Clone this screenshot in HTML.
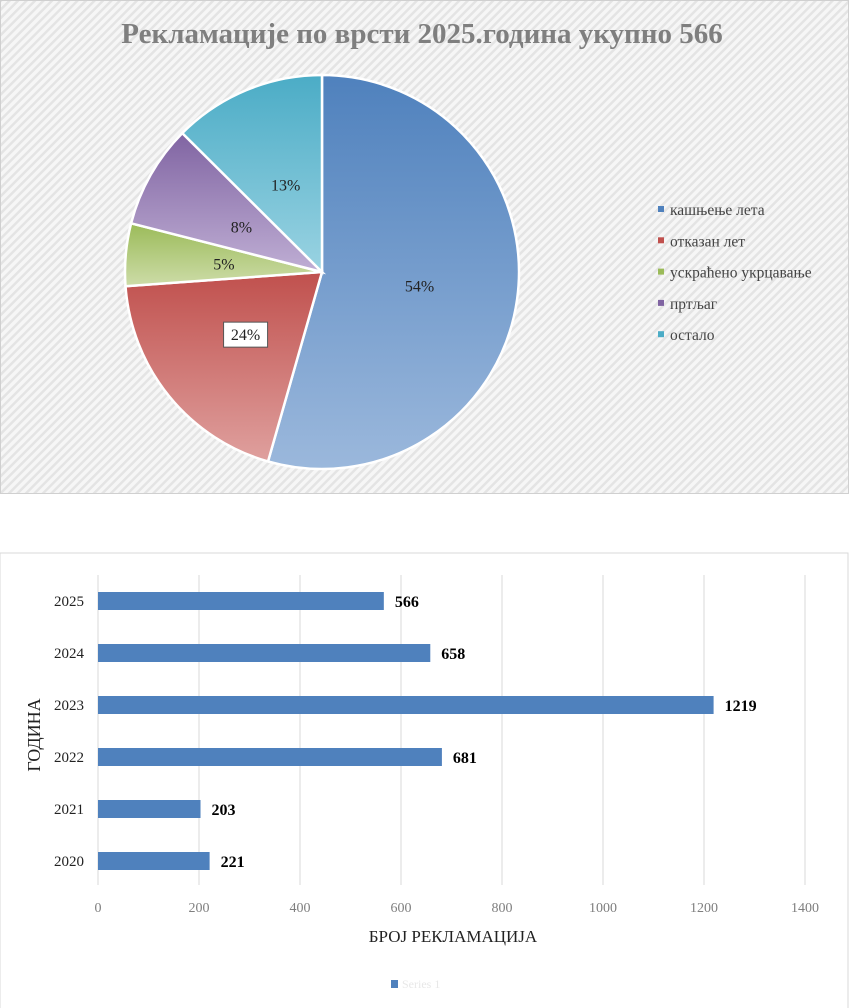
<!DOCTYPE html>
<html><head><meta charset="utf-8"><style>
html,body{margin:0;padding:0;background:#fff;width:850px;height:1008px;overflow:hidden}
svg{display:block;font-family:"Liberation Serif","DejaVu Serif",serif}
</style></head><body>
<svg id="s" width="850" height="1008" xmlns="http://www.w3.org/2000/svg">
<defs>
<pattern id="hatch" width="6" height="6" patternUnits="userSpaceOnUse" patternTransform="rotate(45)">
<rect width="6" height="6" fill="#f6f6f6"/><rect width="2.5" height="6" fill="#e4e4e4"/></pattern>
<linearGradient id="g0" x1="0" y1="0" x2="0" y2="1"><stop offset="0" stop-color="#4f81bd"/><stop offset="1" stop-color="#9bb8dc"/></linearGradient>
<linearGradient id="g1" x1="0" y1="0" x2="0" y2="1"><stop offset="0" stop-color="#c0504d"/><stop offset="1" stop-color="#dfa09e"/></linearGradient>
<linearGradient id="g2" x1="0" y1="0" x2="0" y2="1"><stop offset="0" stop-color="#9bbb59"/><stop offset="1" stop-color="#cddca8"/></linearGradient>
<linearGradient id="g3" x1="0" y1="0" x2="0" y2="1"><stop offset="0" stop-color="#8064a2"/><stop offset="1" stop-color="#bfaed4"/></linearGradient>
<linearGradient id="g4" x1="0" y1="0" x2="0" y2="1"><stop offset="0" stop-color="#4bacc6"/><stop offset="1" stop-color="#9ad3e2"/></linearGradient>
</defs>
<rect x="0.5" y="0.5" width="848" height="493" fill="url(#hatch)" stroke="#d0d0d0"/>
<text x="422" y="43" text-anchor="middle" font-size="29" font-weight="bold" fill="#7f7f7f">Рекламације по врсти 2025.година укупно 566</text>
<g id="pie"></g>
<g id="legend"></g>
<rect x="0" y="553" width="848" height="460" fill="#fff" stroke="#d9d9d9"/>
<g id="bars"></g>
<text x="453" y="942" text-anchor="middle" font-size="17" fill="#222">БРОЈ РЕКЛАМАЦИЈА</text>
<text transform="translate(40,735) rotate(-90)" text-anchor="middle" font-size="18" fill="#222">ГОДИНА</text>
<rect x="391" y="980" width="7" height="8" fill="#4f81bd"/>
<text x="402" y="988" font-size="12" fill="#e8e8e8">Series 1</text>
</svg>
<script>
const pieCategories=["кашњење лета","отказан лет","ускраћено укрцавање","пртљаг","остало"];
const pieValues=[308,110,29,48,71];
const pieLabels=["54%","24%","5%","8%","13%"];
const barYears=["2025","2024","2023","2022","2021","2020"];
const barValues=[566,658,1219,681,203,221];
const xTicks=[0,200,400,600,800,1000,1200,1400];

const NS="http://www.w3.org/2000/svg";
function mk(t,a,p){const e=document.createElementNS(NS,t);for(const k in a)e.setAttribute(k,a[k]);p.appendChild(e);return e;}
const pie=document.getElementById('pie');
const cx=322,cy=272,r=197;
const total=pieValues.reduce((a,b)=>a+b,0);
let acc=0;
const labelR=[0.5,0.5,0.5,0.47,0.48];
pieValues.forEach((v,i)=>{
  const a0=acc/total*2*Math.PI; acc+=v; const a1=acc/total*2*Math.PI;
  const x0=cx+r*Math.sin(a0),y0=cy-r*Math.cos(a0),x1=cx+r*Math.sin(a1),y1=cy-r*Math.cos(a1);
  const large=(a1-a0)>Math.PI?1:0;
  const p=mk('path',{d:`M${cx},${cy} L${x0},${y0} A${r},${r} 0 ${large} 1 ${x1},${y1} Z`,fill:`url(#g${i})`,stroke:'#fff','stroke-width':2.5},pie);
  
  
  const am=(a0+a1)/2, lr=r*labelR[i];
  const lx=cx+lr*Math.sin(am), ly=cy-lr*Math.cos(am);
  if(i===1){const b=mk('rect',{x:lx-22,y:ly-12,width:44,height:25,fill:'#fff',stroke:'#555'},pie);
    
    }
  const t=mk('text',{x:lx,y:ly+6,'text-anchor':'middle','font-size':16,fill:'#222'},pie);
  t.textContent=pieLabels[i];
  
  
});
const lg=document.getElementById('legend');
pieCategories.forEach((c,i)=>{
  const y=210+i*31.3;
  const cols=['#4f81bd','#c0504d','#9bbb59','#8064a2','#4bacc6'];
  const m=mk('rect',{x:658,y:y-4,width:6,height:6,fill:cols[i]},lg);
  
  
  const t=mk('text',{x:670,y:y+5,'font-size':15.5,fill:'#444'},lg);
  t.textContent=c;
  
  
});
const bg=document.getElementById('bars');
const x0=98,x1=805,vmax=1400;
const xs=v=>x0+(v/vmax)*(x1-x0);
const rowY=i=>601+i*52;
xTicks.forEach(t=>{
  const l=mk('line',{x1:xs(t),x2:xs(t),y1:575,y2:885,stroke:'#d9d9d9','stroke-width':1},bg);
  
  
  const tx=mk('text',{x:xs(t),y:912,'text-anchor':'middle','font-size':14,fill:'#7f7f7f'},bg);
  tx.textContent=t;
  
  
});
barValues.forEach((v,i)=>{
  const y=rowY(i);
  const b=mk('rect',{x:xs(0),y:y-9,width:xs(v)-xs(0),height:18,fill:'#4f81bd'},bg);
  
  
  const yl=mk('text',{x:84,y:y+5,'text-anchor':'end','font-size':15,fill:'#222'},bg);
  yl.textContent=barYears[i];
  
  
  const vl=mk('text',{x:xs(v)+11,y:y+6,'font-size':16,'font-weight':'bold',fill:'#000'},bg);
  vl.textContent=v;
  
  
});
</script>
</body></html>
